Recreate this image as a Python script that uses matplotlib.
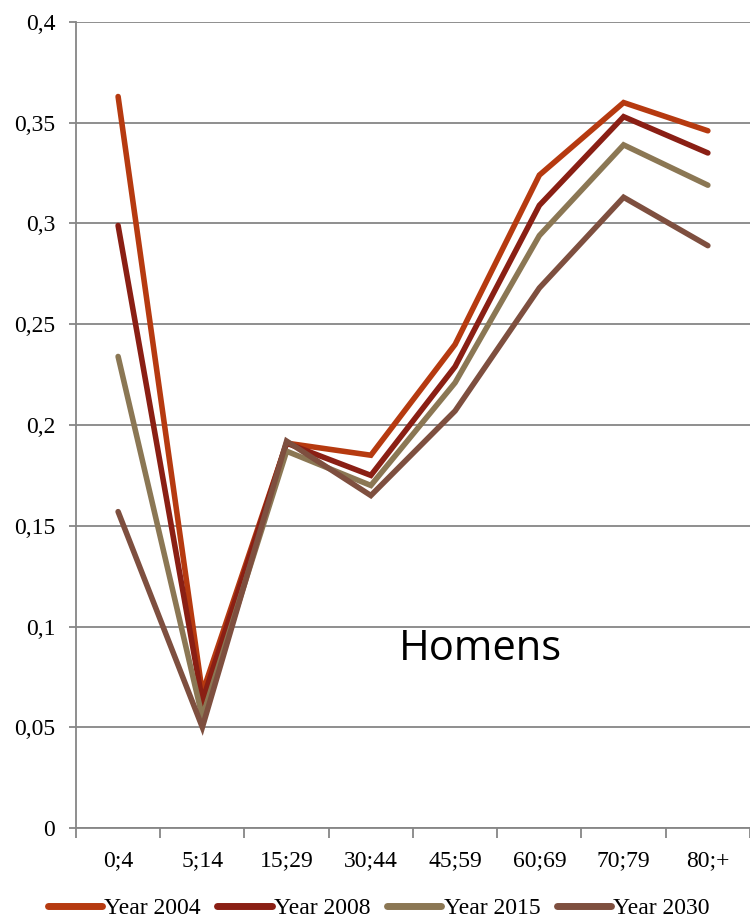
import numpy as np
import matplotlib
matplotlib.use("Agg")
import matplotlib.pyplot as plt
from matplotlib.ticker import FixedLocator, NullFormatter

# ── Dados ──────────────────────────────────────────────────────────────────────
categorias = ["0;4", "5;14", "15;29", "30;44", "45;59", "60;69", "70;79", "80;+"]
anos = ["Year 2004", "Year 2008", "Year 2015", "Year 2030"]
y2004 = [0.363, 0.067, 0.191, 0.185, 0.240, 0.324, 0.360, 0.346]
y2008 = [0.299, 0.063, 0.191, 0.175, 0.229, 0.309, 0.353, 0.335]
y2015 = [0.234, 0.055, 0.187, 0.170, 0.221, 0.294, 0.339, 0.319]
y2030 = [0.157, 0.050, 0.192, 0.165, 0.207, 0.268, 0.313, 0.289]
yticks = [0, 0.05, 0.1, 0.15, 0.2, 0.25, 0.3, 0.35, 0.4]
ytick_labels = ["0", "0,05", "0,1", "0,15", "0,2", "0,25", "0,3", "0,35", "0,4"]

cores = ["#B63A10", "#8A1F14", "#8B7754", "#7E4F3F"]
GRID = "#868686"
FS = 17

plt.rcParams["font.family"] = ["Liberation Serif", "DejaVu Serif"]

fig = plt.figure(figsize=(7.5, 9.23), dpi=100)
ax = fig.add_axes([0.1013, 0.1029, 0.8987, 0.8733])

x = np.arange(len(categorias))
for serie, cor, nome in zip([y2004, y2008, y2015, y2030], cores, anos):
    ax.plot(x, serie, color=cor, lw=4, solid_capstyle="round",
            solid_joinstyle="miter", label=nome, zorder=3)

ax.set_xlim(-0.5, len(categorias) - 0.5)
ax.set_ylim(0, 0.4)
ax.set_yticks(yticks)
ax.set_yticklabels(ytick_labels, fontsize=FS)
ax.yaxis.grid(True, color=GRID, lw=1.3)
ax.set_axisbelow(True)

ax.set_xticks(x)
ax.set_xticklabels(categorias, fontsize=FS)
ax.tick_params(axis="x", which="major", length=0, pad=16)
ax.xaxis.set_minor_locator(FixedLocator(np.arange(-0.5, len(categorias), 1.0)))
ax.xaxis.set_minor_formatter(NullFormatter())
ax.tick_params(axis="x", which="minor", length=7, width=1.3, color=GRID,
               direction="out")
ax.tick_params(axis="y", length=5, width=1.3, color=GRID, direction="out",
               pad=10)

for s in ["top", "right"]:
    ax.spines[s].set_visible(False)
for s in ["left", "bottom"]:
    ax.spines[s].set_color(GRID)
    ax.spines[s].set_linewidth(1.3)

ax.text(4.3, 0.089, "Homens", fontsize=30, family="Open Sans",
        ha="center", va="center", color="black")

leg = fig.legend(loc="lower center", bbox_to_anchor=(0.505, -0.019), ncol=4,
                 frameon=False, fontsize=FS, handlelength=2.3,
                 handletextpad=0.1, columnspacing=0.7)
for h in leg.get_lines():
    h.set_linewidth(5)
    h.set_solid_capstyle("round")

fig.savefig("out.png", dpi=100)
